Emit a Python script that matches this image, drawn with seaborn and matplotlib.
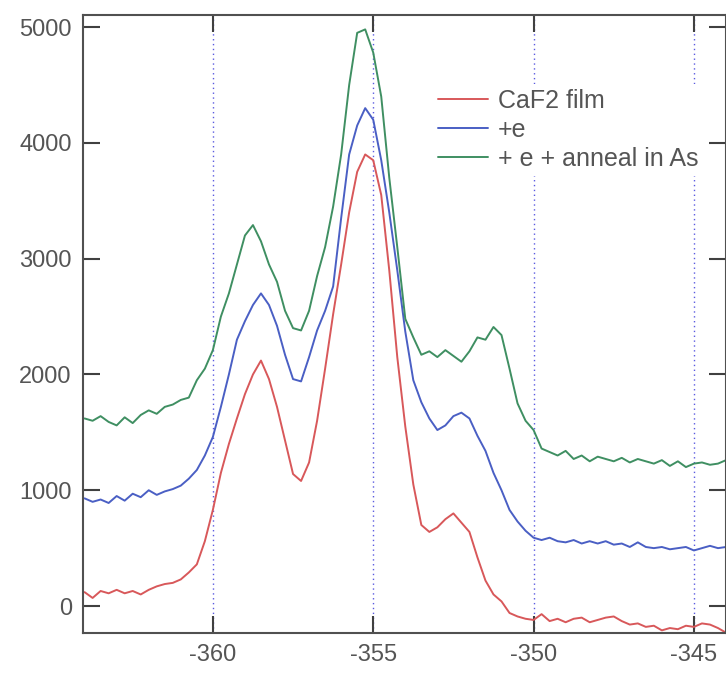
import matplotlib
matplotlib.use("Agg")
import matplotlib.pyplot as plt
import numpy as np
import pandas as pd
import seaborn as sns

# binding energy grid (0.25 steps)
energy = np.arange(-364.0, -343.99, 0.25)

caf2_film = [
    120, 70, 130, 110, 140, 110, 130, 100, 140, 170, 190, 200, 230, 290, 360, 560,
    830, 1150, 1400, 1620, 1830, 2000, 2120, 1960, 1720, 1430, 1140, 1080, 1240, 1600, 2050, 2520,
    2950, 3400, 3750, 3900, 3850, 3550, 2900, 2150, 1550, 1050, 700, 640, 680, 750, 800, 720,
    640, 420, 220, 100, 40, -60, -90, -110, -120, -70, -130, -110, -140, -110, -100, -140,
    -120, -100, -90, -130, -160, -150, -180, -170, -210, -190, -200, -170, -180, -150, -160, -190,
    -230,
]

plus_e = [
    930, 900, 920, 890, 950, 910, 970, 940, 1000, 960, 990, 1010, 1040, 1100, 1175, 1300,
    1460, 1720, 2000, 2300, 2460, 2600, 2700, 2600, 2420, 2170, 1960, 1940, 2150, 2380, 2550, 2760,
    3350, 3900, 4150, 4300, 4200, 3850, 3400, 2900, 2370, 1950, 1760, 1620, 1520, 1560, 1640, 1670,
    1620, 1470, 1340, 1150, 1000, 830, 730, 650, 590, 570, 590, 560, 550, 570, 540, 560,
    540, 560, 530, 540, 510, 550, 510, 500, 510, 490, 500, 510, 480, 500, 520, 500,
    510,
]

anneal_as = [
    1620, 1600, 1640, 1590, 1560, 1630, 1580, 1650, 1690, 1660, 1720, 1740, 1780, 1800, 1950, 2050,
    2210, 2500, 2700, 2950, 3200, 3290, 3150, 2950, 2800, 2550, 2400, 2380, 2550, 2850, 3100, 3450,
    3900, 4500, 4950, 4980, 4780, 4400, 3700, 3100, 2480, 2320, 2170, 2200, 2150, 2210, 2160, 2110,
    2200, 2320, 2300, 2410, 2340, 2050, 1750, 1600, 1520, 1360, 1330, 1300, 1340, 1270, 1300, 1250,
    1290, 1270, 1250, 1280, 1240, 1270, 1250, 1230, 1260, 1210, 1250, 1200, 1230, 1240, 1220, 1230,
    1260,
]

series_names = ["CaF2 film", "+e", "+ e + anneal in As"]
series_colors = ["#d8585a", "#4a5fc4", "#3f8f62"]
x_ticks = [-360, -355, -350, -345]
y_ticks = [0, 1000, 2000, 3000, 4000, 5000]


def build_frame():
    parts = []
    for name, values in zip(series_names, [caf2_film, plus_e, anneal_as]):
        parts.append(pd.DataFrame({"Energy": energy, "Counts": values, "Sample": name}))
    return pd.concat(parts, ignore_index=True)


def plot_spectra():
    sns.set_style("ticks")
    plt.rcParams['font.family'] = ['Liberation Sans', 'DejaVu Sans']
    plt.rcParams['axes.unicode_minus'] = False

    fig = plt.figure(figsize=(7.26, 6.74), dpi=100)
    ax = fig.add_axes([0.1143, 0.0608, 0.8857, 0.9169])

    df = build_frame()
    sns.lineplot(data=df, x="Energy", y="Counts", hue="Sample",
                 hue_order=series_names, palette=series_colors,
                 linewidth=1.4, ax=ax, sort=False)

    ax.set_xlim(-364.05, -344.0)
    ax.set_ylim(-233, 5104)
    ax.set_xticks(x_ticks)
    ax.set_yticks(y_ticks)
    ax.set_xlabel("")
    ax.set_ylabel("")

    for x in x_ticks:
        ax.axvline(x, color="#5a5ae0", linestyle=(0, (1, 2.5)), linewidth=1.0, zorder=0)

    for spine in ax.spines.values():
        spine.set_color("#505050")
        spine.set_linewidth(1.5)
    ax.tick_params(direction="in", top=True, right=True, length=12, width=1.5,
                   color="#404040", labelsize=17, labelcolor="#555555", pad=8)

    handles, labels = ax.get_legend_handles_labels()
    leg = ax.legend(handles, labels, loc="upper left", bbox_to_anchor=(0.544, 0.888),
                    frameon=True, fontsize=18, handlelength=2.0, handletextpad=0.4,
                    labelspacing=0.2, borderpad=0.2, borderaxespad=0.0)
    leg.get_frame().set_facecolor("white")
    leg.get_frame().set_edgecolor("none")
    leg.get_frame().set_alpha(1.0)
    for text in leg.get_texts():
        text.set_color("#555555")

    plt.savefig("out.png", dpi=100)


if __name__ == '__main__':
    plot_spectra()
